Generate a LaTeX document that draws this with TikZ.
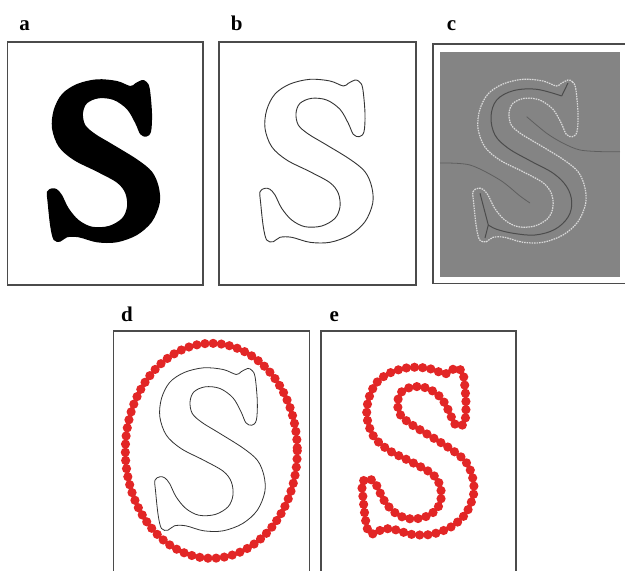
\documentclass[tikz,border=0pt]{standalone}
\usepackage{fontspec}
\setmainfont{Liberation Serif}
\definecolor{dotred}{RGB}{226,38,38}
\definecolor{cgray}{RGB}{132,132,132}
\definecolor{framegray}{RGB}{75,75,75}
\newcommand{\Sshape}{plot[smooth cycle, tension=0.55] coordinates {
(145,80) (149.3,81.7) (152.7,88.3) (155,113.3) (154,131.7) (149.3,136.7)
(143.3,134.3) (138.3,123.3) (130,109.3) (116.7,100) (101.7,98.3) (90,103.3)
(86,113.3) (88.3,125) (98.3,134) (115,144) (140,159.3) (155,171.7)
(161.7,186.7) (162.7,203.3) (155,221.7) (140,235) (120,242.3) (100,242.3)
(81.7,237.3) (70,237.3) (63.3,241.7) (56.7,240) (53.3,226.7) (50.7,203.3)
(50,191.7) (55,188.3) (60,189.3) (65,195) (71.7,208.3) (81.7,220)
(95,226.7) (111.7,226) (125,218.3) (130,206.7) (128.3,193.3) (120,182.7)
(100,171.7) (76.7,160) (61.7,146.7) (55,128.3) (56.7,110) (65,94)
(80,84) (100,79.3) (120,81) (133.3,86) (138.3,83.3)}}
\tikzset{
  x=1pt, y=-1pt,
  frame/.style={draw=framegray, line width=1.1pt},
  lab/.style={font=\fontsize{21}{21}\selectfont\bfseries, inner sep=0pt, anchor=base west},
  outline/.style={draw=black!80, line width=0.9pt},
  reddots/.style={draw=dotred, line width=9.2pt, line cap=round, dash pattern=on 0pt off 8.2pt},
  skel/.style={draw=black!70, line width=1pt},
  faint/.style={draw=black!75, line width=0.8pt, opacity=0.55}
}
\begin{document}
\begin{tikzpicture}
\useasboundingbox (0,0) rectangle (625,571);
% labels
\node[lab] (la) at (19.3,30) {a};
\node[lab] (lb) at (230.7,30) {b};
\node[lab] (lc) at (446.7,30) {c};
\node[lab] (ld) at (121,321.5) {d};
\node[lab] (le) at (329.3,321.5) {e};
% panel a
\draw[frame] (7.5,42) rectangle (203,285);
\begin{scope}[shift={(-3,0)}]
  \fill[black] \Sshape;
\end{scope}
% panel b
\draw[frame] (219,42) rectangle (416,285);
\begin{scope}[shift={(210,0)}]
  \draw[outline] \Sshape;
\end{scope}
% panel c
\draw[frame] (632,44) -- (433,44) -- (433,283.5) -- (632,283.5);
\fill[cgray] (440,51.7) rectangle (620,276.5);
\draw[faint] plot[smooth] coordinates {(440,163) (470,165) (500,180) (520,196) (530,203)};
\draw[faint] plot[smooth] coordinates {(526.7,116.7) (546.7,133.3) (563.3,143.3) (580,150) (603,151.7) (620,151.7)};
\begin{scope}[shift={(423,0)}]
  \draw[skel] plot[smooth, tension=0.6] coordinates {
    (138.7,96) (113.7,89.3) (90.3,90.7) (73.7,100) (68,116.7) (72,135)
    (85.3,148.3) (107,160.7) (130.3,173.3) (143.7,186.7) (148.7,201.7)
    (145.3,216.7) (132,229.3) (112,235) (90.3,233.3) (73.7,229.3) (65.3,225)};
  \draw[skel] (138.7,96) -- (145,83);
  \draw[skel] (65.3,225) -- (57,193.3);
  \draw[skel] (65.3,225) -- (62,238);
  \draw[draw=white!85!black, line width=1.2pt, dash pattern=on 1.6pt off 0.9pt] \Sshape;
\end{scope}
% panel d
\draw[frame] (113.5,575) -- (113.5,331) -- (309.5,331) -- (309.5,575);
\begin{scope}[shift={(106.2,288.5)}, xscale=0.975]
  \draw[outline, line width=0.8pt] \Sshape;
\end{scope}
\draw[reddots] (211.3,450.8) ellipse [x radius=86, y radius=107.5];
% panel e
\draw[frame] (321,575) -- (321,331) -- (516,331) -- (516,575);
\begin{scope}[shift={(312.5,286)}, xscale=0.99, yscale=1.025]
  \draw[reddots] \Sshape;
\end{scope}
\end{tikzpicture}
\end{document}
